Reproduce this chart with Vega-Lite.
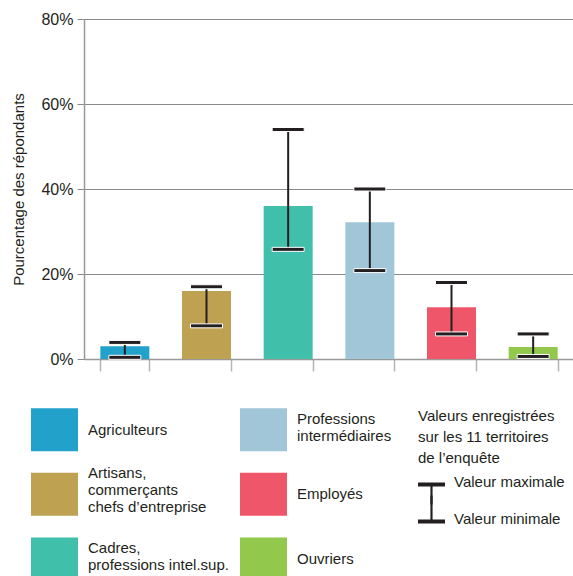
{
  "$schema": "https://vega.github.io/schema/vega-lite/v6.json",
  "width": 490,
  "height": 340,
  "autosize": {"type": "none"},
  "padding": {"left": 84, "top": 19, "right": 0, "bottom": 217},
  "background": "white",
  "config": {
    "font": "Liberation Sans, Arial, sans-serif",
    "view": {"stroke": null},
    "legend": {"padding": 0}
  },
  "data": {
    "values": [
      {"categorie": "Agriculteurs", "valeur": 3, "min": 0.4, "max": 3.9},
      {"categorie": "Artisans, commerçants chefs d’entreprise", "valeur": 16, "min": 7.8, "max": 17},
      {"categorie": "Cadres, professions intel.sup.", "valeur": 36, "min": 25.8, "max": 54},
      {"categorie": "Professions intermédiaires", "valeur": 32.2, "min": 20.8, "max": 40},
      {"categorie": "Employés", "valeur": 12.2, "min": 5.9, "max": 18},
      {"categorie": "Ouvriers", "valeur": 2.8, "min": 0.6, "max": 5.9}
    ]
  },
  "layer": [
    {
      "mark": {"type": "bar"},
      "encoding": {
        "x": {
          "field": "categorie", "type": "nominal", "sort": null,
          "scale": {"paddingInner": 0.4, "paddingOuter": 0.2},
          "axis": {"labels": false, "title": null, "tickBand": "extent", "tickSize": 12, "tickColor": "#b5b5b5", "tickWidth": 1.5, "domainColor": "#999999", "domainWidth": 1.5, "grid": false}
        },
        "y": {
          "field": "valeur", "type": "quantitative",
          "scale": {"domain": [0, 80], "nice": false},
          "title": "Pourcentage des répondants",
          "axis": {
            "values": [0, 20, 40, 60, 80],
            "labelExpr": "datum.value + '%'",
            "labelFontSize": 16, "labelColor": "#231F20", "labelPadding": 4,
            "tickSize": 7, "tickColor": "#8a8a8a", "domainColor": "#999999", "domainWidth": 1.5,
            "grid": true, "gridColor": "#8a8a8a", "gridWidth": 1,
            "titleFontSize": 15, "titleFontWeight": "normal", "titleColor": "#231F20", "titlePadding": 14
          }
        },
        "color": {
          "field": "categorie", "type": "nominal",
          "scale": {
            "domain": ["Agriculteurs", "Artisans, commerçants chefs d’entreprise", "Cadres, professions intel.sup.", "Professions intermédiaires", "Employés", "Ouvriers"],
            "range": ["#22A1CA", "#BFA152", "#40BFAB", "#A1C6D8", "#EF566A", "#92C84B"]
          },
          "legend": {
            "orient": "none", "legendX": -53, "legendY": 387, "columns": 2, "title": null,
            "symbolType": "M0,-1.4M0,1.4M-1,-0.915H1V0.915H-1Z", "symbolSize": 2209, "symbolStrokeWidth": 0, "symbolOpacity": 1,
            "labelFontSize": 15, "labelColor": "#231F20", "labelLineHeight": 21, "labelOffset": 10, "labelLimit": 0,
            "rowPadding": -2.3, "columnPadding": 11,
            "labelExpr": "datum.label === 'Professions intermédiaires' ? ['Professions', 'intermédiaires'] : datum.label === 'Artisans, commerçants chefs d’entreprise' ? ['Artisans,', 'commerçants', 'chefs d’entreprise'] : datum.label === 'Cadres, professions intel.sup.' ? ['Cadres,', 'professions intel.sup.'] : datum.label",
            "encoding": {
              "labels": {
                "dy": {"value": {"expr": "datum.value === 'Artisans, commerçants chefs d’entreprise' ? -21 : (datum.value === 'Professions intermédiaires' || datum.value === 'Cadres, professions intel.sup.') ? -10.5 : 0"}}
              }
            }
          }
        }
      }
    },
    {
      "mark": {"type": "rule", "color": "#231F20", "strokeWidth": 2},
      "encoding": {
        "x": {"field": "categorie", "type": "nominal", "sort": null},
        "y": {"field": "min", "type": "quantitative", "title": "Pourcentage des répondants"},
        "y2": {"field": "max"}
      }
    },
    {
      "mark": {"type": "tick", "orient": "horizontal", "size": 32, "thickness": 4, "fill": "#231F20", "stroke": "white", "strokeWidth": 1, "opacity": 1},
      "encoding": {
        "x": {"field": "categorie", "type": "nominal", "sort": null},
        "y": {"field": "max", "type": "quantitative", "title": "Pourcentage des répondants"}
      }
    },
    {
      "mark": {"type": "tick", "orient": "horizontal", "size": 32, "thickness": 4, "fill": "#231F20", "stroke": "white", "strokeWidth": 1, "opacity": 1},
      "encoding": {
        "x": {"field": "categorie", "type": "nominal", "sort": null},
        "y": {"field": "min", "type": "quantitative", "title": "Pourcentage des répondants"}
      }
    },
    {
      "data": {"values": [{"repere": "Valeur maximale"}, {"repere": "Valeur minimale"}]},
      "mark": {"type": "point", "opacity": 0, "filled": true, "color": "#231F20"},
      "encoding": {
        "shape": {
          "field": "repere", "type": "nominal",
          "scale": {
            "domain": ["Valeur maximale", "Valeur minimale"],
            "range": ["M0,-1.7M0,1.7M-1,0.07H1V0.37H0.08V1.7H-0.08V0.37H-1Z", "M0,-1.7M0,1.7M-0.08,-1.7H0.08V0.07H1V0.37H-1V0.07H-0.08Z"]
          },
          "legend": {
            "orient": "none", "legendX": 334, "legendY": 390,
            "title": ["Valeurs enregistrées", "sur les 11 territoires", "de l’enquête"],
            "titleFontSize": 15, "titleFontWeight": "normal", "titleColor": "#231F20", "titleLineHeight": 21, "titlePadding": 2,
            "symbolSize": 729, "symbolFillColor": "#231F20", "symbolStrokeWidth": 0, "symbolOpacity": 1,
            "labelFontSize": 15, "labelColor": "#231F20", "labelOffset": 9, "labelLimit": 0, "rowPadding": -12
          }
        }
      }
    }
  ]
}
